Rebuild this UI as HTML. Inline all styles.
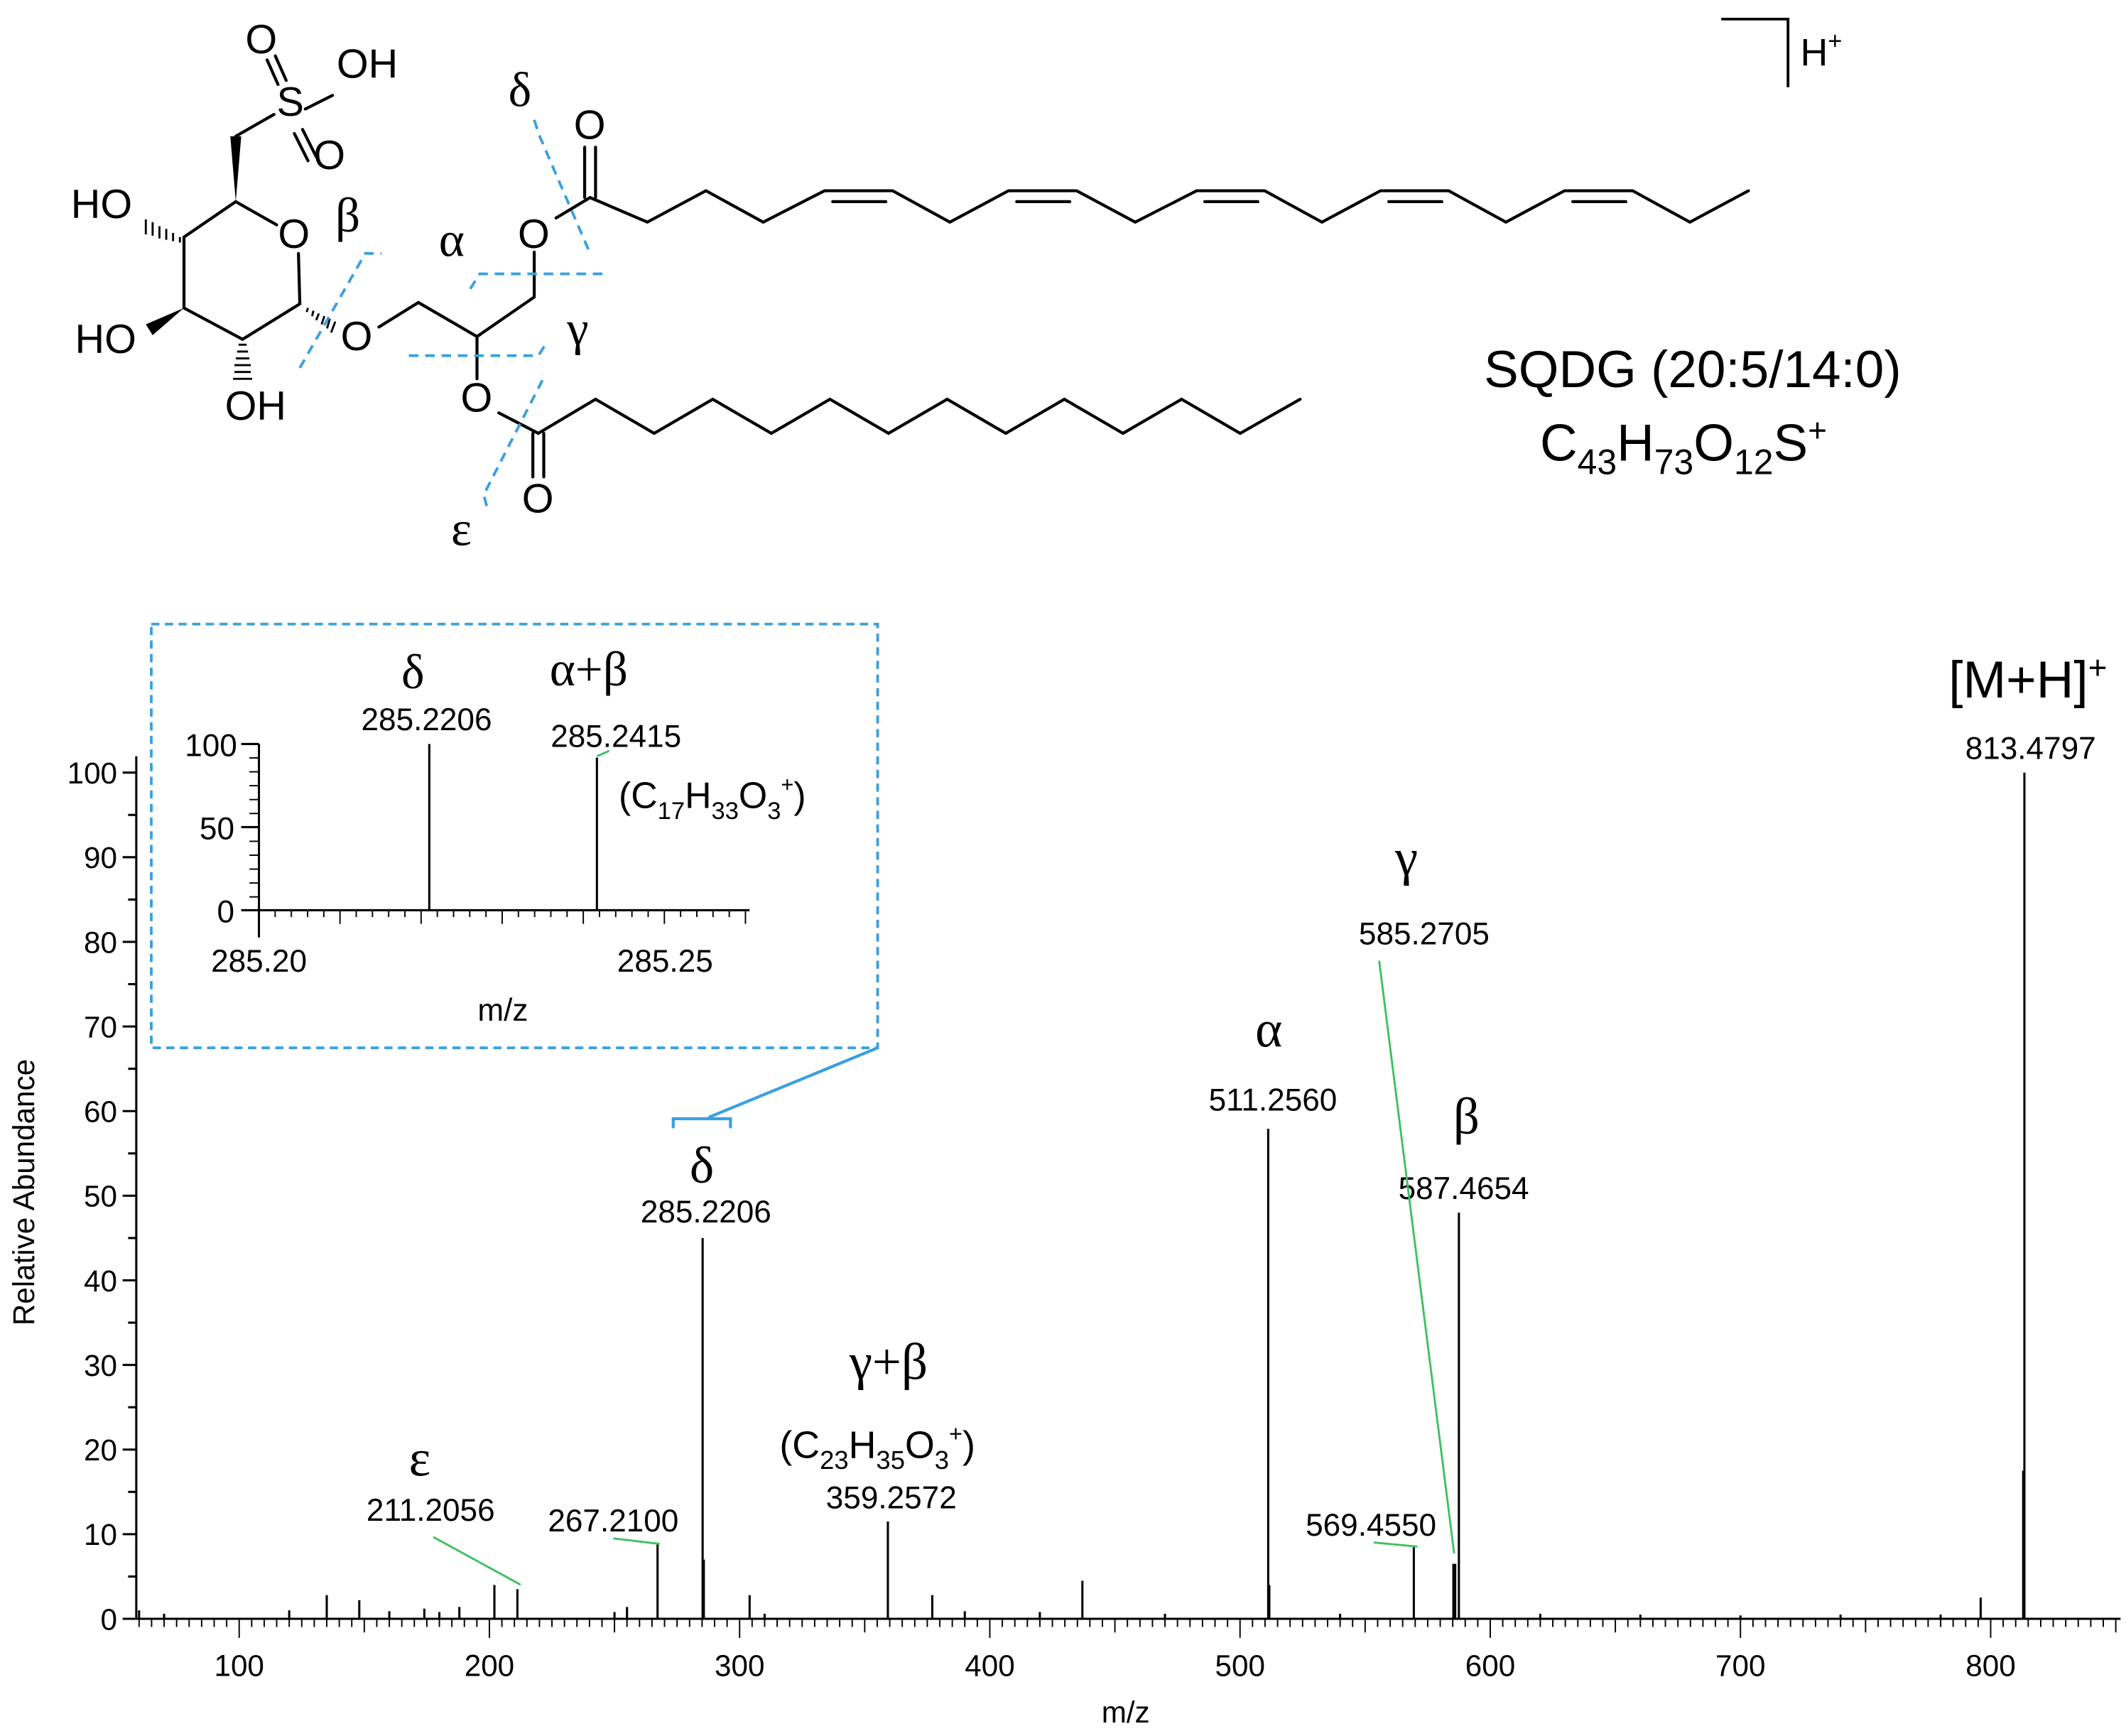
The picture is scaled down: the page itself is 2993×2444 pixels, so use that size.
<!DOCTYPE html>
<html><head><meta charset="utf-8"><style>
html,body{margin:0;padding:0;background:#fff;}
svg{display:block;}
text{font-family:"Liberation Sans",Arial,sans-serif;fill:#000;}
.g{font-family:"Liberation Serif","DejaVu Serif",serif;}
</style></head><body>
<svg id="s" width="2993" height="2444" viewBox="0 0 1560 1274" preserveAspectRatio="none" xmlns="http://www.w3.org/2000/svg">
<rect width="1560" height="1274" fill="#fff"/>
<!-- structure -->
<g stroke="#000" stroke-width="2.2" fill="none" stroke-linecap="round">
<path d="M173,148 L203,165"/>
<path d="M219,186 L220,223 L178,249 L135,226 L135,174 L173,148"/>
<path d="M201,84 L173,100"/>
<path d="M196,44 L204,62 M202,41 L210,59"/>
<path d="M224,80 L244,70"/>
<path d="M216,98 L226,118 M222,95 L232,115"/>
<path d="M278,240 L307,222 L350,247 L392,218 L392,185"/>
<path d="M350,247 L350,278"/>
<path d="M408,160 L433,145 L475,163 L518,140 L560,163 L605,140 L655,140 L697,163 L740,140 L790,140 L833,163 L878,140 L928,140 L970,163 L1013,140 L1063,140 L1105,163 L1148,140 L1198,140 L1240,163 L1283,140"/>
<path d="M611,148 L650,148 M746,148 L785,148 M884,148 L923,148 M1019,148 L1058,148 M1154,148 L1193,148"/>
<path d="M429,145 L429,108 M437,145 L437,108"/>
<path d="M366,303 L395,318 L437,293 L480,318 L523,293 L566,318 L609,293 L652,318 L695,293 L738,318 L781,293 L824,318 L867,293 L910,318 L954,293"/>
<path d="M391,318 L391,350 M399,318 L399,350"/>
</g>
<g stroke="#000" stroke-width="1.5">
<path d="M223,224 l0,0 M226,226 l-1,3 M230,228 l-1,4 M234,230 l-2,5 M238,232 l-2,6 M242,234 l-2,7 M246,236 l-3,8"/>
<path d="M175,253 l6,0 M174,258 l8,0 M173,263 l10,0 M172,268 l12,0 M172,273 l12,0 M171,278 l14,0"/>
<path d="M132,174 l0,4 M127,171 l0,6 M122,168 l0,8 M117,166 l0,9 M112,163 l0,10 M107,161 l0,11"/>
</g>
<polygon points="173,148 169,100 177,100" fill="#000"/>
<polygon points="135,226 107,238 112,246" fill="#000"/>
<g font-size="30">
<text x="180" y="39">O</text><text x="247" y="57">OH</text>
<text x="203" y="85">S</text><text x="230" y="124">O</text>
<text x="52" y="160">HO</text><text x="204" y="182">O</text>
<text x="55" y="259">HO</text><text x="165" y="308">OH</text>
<text x="250" y="257">O</text><text x="380" y="182">O</text>
<text x="421" y="102">O</text><text x="338" y="302">O</text>
<text x="383" y="376">O</text>
</g>
<g stroke="#3aa0e0" stroke-width="2" fill="none" stroke-dasharray="7,5">
<polyline points="220,270 268,186 280,186"/>
<polyline points="345,212 352,201 447,201"/>
<polyline points="300,261 395,261 402,250"/>
<polyline points="392,88 396,100 433,186"/>
<polyline points="398,279 355,363 358,375"/>
</g>
<g class="g" font-size="36">
<text class="g" x="246" y="170">β</text><text class="g" x="322" y="188">α</text>
<text class="g" x="416" y="253">γ</text><text class="g" x="373" y="78">δ</text>
<text class="g" x="331" y="400">ε</text>
</g>
<polyline points="1263,14 1312,14 1312,64" stroke="#000" stroke-width="2" fill="none"/>
<text x="1321" y="48" font-size="28">H<tspan font-size="18" dy="-12">+</tspan></text>
<text x="1242" y="284" font-size="38" text-anchor="middle">SQDG (20:5/14:0)</text>
<text x="1130" y="338" font-size="38">C<tspan font-size="26" dy="10">43</tspan><tspan dy="-10">H</tspan><tspan font-size="26" dy="10">73</tspan><tspan dy="-10">O</tspan><tspan font-size="26" dy="10">12</tspan><tspan dy="-10">S</tspan><tspan font-size="24" dy="-14">+</tspan></text>

<!-- main axes -->
<g id="ax" stroke="#000" stroke-width="1.6" fill="none">
<line x1="100" y1="1188" x2="1556" y2="1188"/>
<line x1="100" y1="555" x2="100" y2="1188"/>
</g>
<g id="yl" font-size="22" text-anchor="end"></g>
<g id="xl" font-size="22" text-anchor="middle"></g>
<g id="pk" stroke="#000" stroke-width="1.6"></g>
<text x="826" y="1264" font-size="22" text-anchor="middle">m/z</text>
<text transform="translate(25,875) rotate(-90)" font-size="22" text-anchor="middle">Relative Abundance</text>

<!-- peak labels -->
<g font-size="23" text-anchor="middle">
<text x="1490" y="557">813.4797</text>
<text x="934" y="815">511.2560</text>
<text x="1074" y="880">587.4654</text>
<text x="518" y="897">285.2206</text>
<text x="1045" y="693">585.2705</text>
<text x="654" y="1107">359.2572</text>
<text x="450" y="1124">267.2100</text>
<text x="316" y="1116">211.2056</text>
<text x="1006" y="1127">569.4550</text>
</g>
<text x="1488" y="512" font-size="38" text-anchor="middle">[M+H]<tspan font-size="24" dy="-14">+</tspan></text>
<g class="g" font-size="38" text-anchor="middle">
<text class="g" x="931" y="768">α</text>
<text class="g" x="1076" y="832">β</text>
<text class="g" x="1032" y="642">γ</text>
<text class="g" x="515" y="868">δ</text>
<text class="g" x="308" y="1083">ε</text>
<text class="g" x="652" y="1012">γ+β</text>
</g>
<text x="572" y="1070" font-size="28">(C<tspan font-size="19" dy="8">23</tspan><tspan dy="-8">H</tspan><tspan font-size="19" dy="8">35</tspan><tspan dy="-8">O</tspan><tspan font-size="19" dy="8">3</tspan><tspan font-size="17" dy="-20">+</tspan><tspan dy="12">)</tspan></text>
<g stroke="#3fc060" stroke-width="1.5" fill="none">
<line x1="318" y1="1128" x2="382" y2="1163"/>
<polyline points="450,1129 484,1133"/>
<polyline points="1008,1132 1040,1135"/>
<line x1="1012" y1="705" x2="1067" y2="1140"/>
<line x1="447" y1="551" x2="438" y2="555"/>
</g>

<!-- inset -->
<rect x="111" y="458" width="533" height="311" fill="none" stroke="#3aa0e0" stroke-width="2" stroke-dasharray="6,4"/>
<g stroke="#3aa0e0" stroke-width="2.2" fill="none">
<line x1="644" y1="769" x2="520" y2="820"/>
<polyline points="494,828 494,821 536,821 536,828"/>
</g>
<g stroke="#000" stroke-width="1.6" fill="none" id="inax">
<line x1="190" y1="546" x2="190" y2="688"/>
<line x1="190" y1="668" x2="550" y2="668"/>
<line x1="177" y1="546" x2="190" y2="546"/>
<line x1="177" y1="607" x2="190" y2="607"/>
<line x1="177" y1="668" x2="190" y2="668"/>
<line x1="315" y1="546" x2="315" y2="668"/>
<line x1="438" y1="556" x2="438" y2="668"/>
</g>
<g font-size="23" text-anchor="end">
<text x="174" y="555">100</text><text x="172" y="616">50</text><text x="172" y="677">0</text>
</g>
<g font-size="23" text-anchor="middle">
<text x="190" y="713">285.20</text><text x="488" y="713">285.25</text>
<text x="369" y="749">m/z</text>
<text x="313" y="536">285.2206</text><text x="452" y="548">285.2415</text>
</g>
<g class="g" font-size="36" text-anchor="middle">
<text class="g" x="303" y="505">δ</text><text class="g" x="432" y="503">α+β</text>
</g>
<text x="454" y="593" font-size="27">(C<tspan font-size="18" dy="8">17</tspan><tspan dy="-8">H</tspan><tspan font-size="18" dy="8">33</tspan><tspan dy="-8">O</tspan><tspan font-size="18" dy="8">3</tspan><tspan font-size="16" dy="-20">+</tspan><tspan dy="12">)</tspan></text>
</svg>
<script>
var NS="http://www.w3.org/2000/svg";
function L(g,x1,y1,x2,y2,w){var l=document.createElementNS(NS,"line");l.setAttribute("x1",x1);l.setAttribute("y1",y1);l.setAttribute("x2",x2);l.setAttribute("y2",y2);if(w)l.setAttribute("stroke-width",w);g.appendChild(l);}
function T(g,x,y,s){var t=document.createElementNS(NS,"text");t.setAttribute("x",x);t.setAttribute("y",y);t.textContent=s;g.appendChild(t);}
var ax=document.getElementById("ax"),yl=document.getElementById("yl"),xl=document.getElementById("xl"),pk=document.getElementById("pk"),ia=document.getElementById("inax");
function X(m){return 175.5+(m-100)*1.836;}
function Y(v){return 1188-v*6.21;}
for(var v=0;v<=100;v+=5){var y=Y(v);L(ax,v%10?94:90,y,100,y);if(v%10==0)T(yl,86,y+8,v);}
for(var m=60;m<=850;m+=5){var x=X(m);var h=m%100==0?14:(m%50==0?10:6);L(ax,x,1188,x,1188+h,1);if(m%100==0)T(xl,x,1230,m);}
for(var i=0;i<=30;i++){var x=190+i*11.9;var h=i%5==0?10:5;L(ia,x,668,x,668+h,1);}
for(var i=1;i<=11;i++){L(ia,183,546+i*10.2,190,546+i*10.2,1);}
var P=[[813.48,100],[813.0,17.5],[511.26,57.9],[511.7,4],[285.22,45],[285.7,7],[587.47,48],[585.27,6.5],[586.0,6.5],[569.46,8.5],[359.26,11.5],[267.21,9],[211.2,3.5],[202,4],[437,4.5],[377,2.8],[304,2.8],[796,2.5],[135,2.8],[148,2.2],[174,1.2],[188,1.4],[60,1],[70,0.6],[120,1],[160,0.9],[180,0.8],[250,0.8],[255,1.4],[310,0.6],[390,0.9],[420,0.8],[470,0.6],[540,0.6],[620,0.6],[660,0.5],[700,0.4],[740,0.5],[780,0.5]];
P.forEach(function(p){L(pk,X(p[0]),1188,X(p[0]),Y(p[1]));});
</script>
</body></html>
